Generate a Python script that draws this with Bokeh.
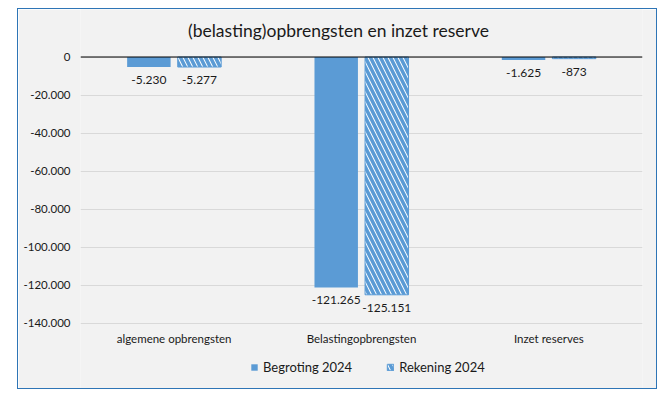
from bokeh.plotting import figure
from bokeh.models import (ColumnDataSource, FixedTicker, Span, Legend, LegendItem,
                          LabelSet, Label)
from bokeh.transform import dodge
from bokeh.core.properties import value
from bokeh.embed import file_html
from bokeh.resources import INLINE

categories = ["algemene opbrengsten", "Belastingopbrengsten", "Inzet reserves"]
begroting_2024 = [-5230, -121265, -1625]
rekening_2024 = [-5277, -125151, -873]
y_ticks = [0, -20000, -40000, -60000, -80000, -100000, -120000, -140000]
series_names = ["Begroting 2024", "Rekening 2024"]
title_text = "(belasting)opbrengsten en inzet reserve"


def fmt(v):
    return f"{v:,}".replace(",", ".")


BLUE = "#5B9BD5"
FONT = "Lato"
TXT = "#1a1a1a"

# layout (pixels)
W, H = 640, 381
TOP, LEFT, RIGHT = 47.5, 62, 16
AXIS_PX = 266  # pixel height of the value axis from 0 to last tick
px_per_unit = AXIS_PX / abs(y_ticks[-1] - y_ticks[0])
y_end = y_ticks[0] + TOP / px_per_unit
y_start = y_ticks[0] - (H - TOP) / px_per_unit

src = ColumnDataSource(dict(
    cat=categories,
    b=begroting_2024,
    r=rekening_2024,
    bl=[fmt(v) for v in begroting_2024],
    rl=[fmt(v) for v in rekening_2024],
    base=[y_ticks[-1]] * len(categories),
))

p = figure(x_range=categories, y_range=(y_start, y_end),
           width=W, height=H, output_backend="svg", toolbar_location=None,
           x_axis_location=None,
           min_border_left=LEFT, min_border_right=RIGHT, min_border_top=0, min_border_bottom=0,
           background_fill_color="#F2F2F2", border_fill_color="#F2F2F2")
p.margin = (8, 0, 0, 17)
p.styles = {"border": "1.5px solid #2E75B6", "box-sizing": "border-box"}
p.outline_line_color = None

# title, centred on the chart area (x in the categorical range's synthetic units)
p.add_layout(Label(x=len(categories) / 2, y=y_ticks[0], x_offset=-23, y_offset=27,
                   text=title_text, text_align="center", text_baseline="middle",
                   text_font=FONT, text_font_size="17.5px", text_color=TXT))

off = 0.135
w = 0.232
rb = p.vbar(x=dodge("cat", -off, range=p.x_range), top="b", bottom=0, width=w, source=src,
            fill_color=BLUE, line_color=None)
rr = p.vbar(x=dodge("cat", off, range=p.x_range), top="r", bottom=0, width=w, source=src,
            fill_color="white", line_color=BLUE, line_width=1,
            hatch_pattern="\\", hatch_color=BLUE, hatch_weight=3.5, hatch_scale=10)

p.add_layout(Span(location=0, dimension="width", line_color="#000000", line_width=1.2))

for col, lab, o in (("b", "bl", -off), ("r", "rl", off)):
    p.add_layout(LabelSet(x=dodge("cat", o, range=p.x_range), y=col, text=lab, source=src,
                          y_offset=-13, text_align="center", text_baseline="middle",
                          text_font=value(FONT), text_font_size=value("12px"),
                          text_color=TXT))

# category labels under the last gridline
p.add_layout(LabelSet(x="cat", y="base", text="cat", source=src,
                      y_offset=-15, text_align="center", text_baseline="middle",
                      text_font=value(FONT), text_font_size=value("11.5px"),
                      text_color=TXT))

p.yaxis.ticker = FixedTicker(ticks=y_ticks)
p.yaxis.major_label_overrides = {t: fmt(t) for t in y_ticks}
p.yaxis.axis_line_color = None
p.yaxis.major_tick_line_color = None
p.yaxis.minor_tick_line_color = None
p.yaxis.major_tick_out = 0
p.yaxis.major_label_text_font = FONT
p.yaxis.major_label_text_font_size = "11.5px"
p.yaxis.major_label_text_color = TXT
p.yaxis.major_label_standoff = 10

p.xgrid.grid_line_color = None
p.ygrid.ticker = FixedTicker(ticks=y_ticks)
p.ygrid.grid_line_color = "#D9D9D9"
p.ygrid.grid_line_width = 1.2

legend = Legend(items=[LegendItem(label=series_names[0], renderers=[rb]),
                       LegendItem(label=series_names[1], renderers=[rr])],
                orientation="horizontal", location=(170, 15),
                background_fill_alpha=0, border_line_color=None,
                padding=0, margin=0, spacing=34, glyph_width=8, glyph_height=8,
                label_text_font=FONT, label_text_font_size="13px",
                label_text_color=TXT, label_standoff=5)
p.add_layout(legend, "center")

open("out.html", "w").write(file_html(p, INLINE))
